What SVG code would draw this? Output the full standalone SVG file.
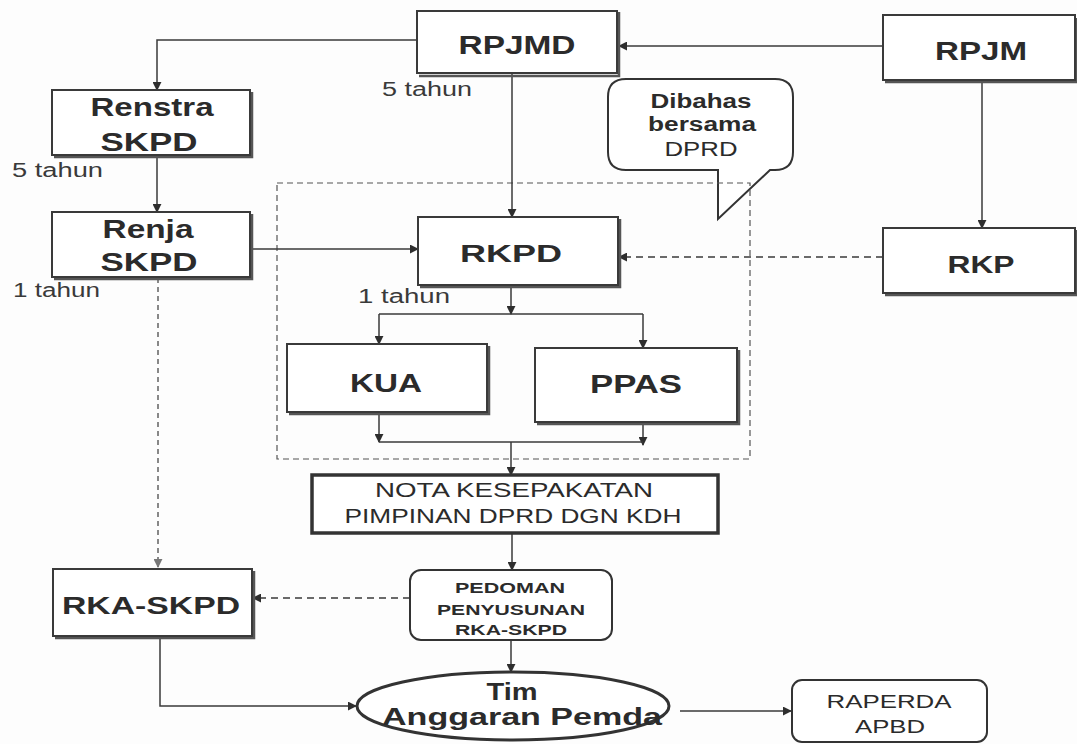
<svg xmlns="http://www.w3.org/2000/svg" width="1077" height="744" viewBox="0 0 1077 744">
<defs>
<marker id="ah" viewBox="0 0 10 10" refX="9" refY="5" markerWidth="9" markerHeight="9" markerUnits="userSpaceOnUse" orient="auto">
<path d="M0,0 L10,5 L0,10 Z" fill="#2e2e2e"/>
</marker>
<marker id="ahg" viewBox="0 0 10 10" refX="9" refY="5" markerWidth="9" markerHeight="9" markerUnits="userSpaceOnUse" orient="auto">
<path d="M0,0 L10,5 L0,10 Z" fill="#777"/>
</marker>
</defs>
<style>
.box{fill:#fff;stroke:#3a3a3a;stroke-width:2}
.sh{fill:none;stroke:#555;stroke-width:2.5}
.rbox{fill:#fff;stroke:#333;stroke-width:2}
.t{font-family:"Liberation Sans",Arial,sans-serif;fill:#2b2b2b;text-anchor:middle}
.b{font-weight:bold}
.tl{font-family:"Liberation Sans",Arial,sans-serif;fill:#3a3a3a}
.c{fill:none;stroke:#3a3a3a;stroke-width:1.5}
.cd{fill:none;stroke:#3a3a3a;stroke-width:1.5;stroke-dasharray:7 5}
.cg{fill:none;stroke:#888;stroke-width:2;stroke-dasharray:5 4}
.cont{fill:none;stroke:#555;stroke-width:1.2;stroke-dasharray:6 4}
</style>
<rect x="0" y="0" width="1077" height="744" fill="#fdfdfd"/>

<g id="callout">
<path d="M626,79 H775 Q793,79 793,97 V152 Q793,170 775,170 H770 L718,219 V170 H626 Q608,170 608,152 V97 Q608,79 626,79 Z" fill="#fff" stroke="#333" stroke-width="2"/>
<text class="t b" x="701" y="108" font-size="20" textLength="101" lengthAdjust="spacingAndGlyphs">Dibahas</text>
<text class="t b" x="702" y="131" font-size="20" textLength="108" lengthAdjust="spacingAndGlyphs">bersama</text>
<text class="t" x="701" y="156" font-size="21" textLength="73" lengthAdjust="spacingAndGlyphs">DPRD</text>
</g>

<g id="container">
<rect class="cont" x="277" y="183" width="473" height="276"/>
</g>

<g id="connectors">
<path class="c" d="M417,40 H157 V90" marker-end="url(#ah)"/>
<path class="c" d="M883,46 H619" marker-end="url(#ah)"/>
<path class="c" d="M512,73 V217" marker-end="url(#ah)"/>
<path class="c" d="M157,155 V212" marker-end="url(#ah)"/>
<path class="c" d="M250,249 H418" marker-end="url(#ah)"/>
<path class="cg" d="M158,278 V567" marker-end="url(#ahg)"/>
<path class="c" d="M982,80 V228" marker-end="url(#ah)"/>
<path class="cd" d="M883,257 H619" marker-end="url(#ah)"/>
<path class="c" d="M511,285 V314" marker-end="url(#ah)"/>
<path class="c" d="M379,314 H643"/>
<path class="c" d="M379,314 V344" marker-end="url(#ah)"/>
<path class="c" d="M643,314 V348" marker-end="url(#ah)"/>
<path class="c" d="M379,412 V442" marker-end="url(#ah)"/>
<path class="c" d="M643,422 V445" marker-end="url(#ah)"/>
<path class="c" d="M379,442 H643"/>
<path class="c" d="M511,442 V475" marker-end="url(#ah)"/>
<path class="c" d="M512,533 V570" marker-end="url(#ah)"/>
<path class="cd" d="M410,598 H253" marker-end="url(#ah)"/>
<path class="c" d="M511,640 V672" marker-end="url(#ah)"/>
<path class="c" d="M160,636 V706 H356" marker-end="url(#ah)"/>
<path class="c" d="M680,711 H791" marker-end="url(#ah)"/>
</g>

<g id="rpjmd">
<polyline class="sh" points="619,12 619,76 419,76"/>
<rect class="box" x="417" y="11" width="200" height="62"/>
<text class="t b" x="517" y="54" font-size="26" textLength="117" lengthAdjust="spacingAndGlyphs">RPJMD</text>
</g>
<text class="tl" x="382" y="96" font-size="20" textLength="90" lengthAdjust="spacingAndGlyphs">5 tahun</text>

<g id="rpjm">
<polyline class="sh" points="1076,18 1076,82 885,82"/>
<rect class="box" x="883" y="15" width="192" height="65"/>
<text class="t b" x="981" y="60" font-size="25" textLength="92" lengthAdjust="spacingAndGlyphs">RPJM</text>
</g>

<g id="renstra">
<polyline class="sh" points="252,92 252,157 54,157"/>
<rect class="box" x="52" y="90" width="198" height="65"/>
<text class="t b" x="152" y="116" font-size="25" textLength="123" lengthAdjust="spacingAndGlyphs">Renstra</text>
<text class="t b" x="149" y="151" font-size="25" textLength="97" lengthAdjust="spacingAndGlyphs">SKPD</text>
</g>
<text class="tl" x="12" y="177" font-size="20" textLength="91" lengthAdjust="spacingAndGlyphs">5 tahun</text>

<g id="renja">
<polyline class="sh" points="252,214 252,279 54,279"/>
<rect class="box" x="52" y="212" width="198" height="65"/>
<text class="t b" x="148" y="238" font-size="25" textLength="91" lengthAdjust="spacingAndGlyphs">Renja</text>
<text class="t b" x="149" y="271" font-size="25" textLength="97" lengthAdjust="spacingAndGlyphs">SKPD</text>
</g>
<text class="tl" x="13" y="297" font-size="20" textLength="87" lengthAdjust="spacingAndGlyphs">1 tahun</text>

<g id="rkpd">
<polyline class="sh" points="620,219 620,287 420,287"/>
<rect class="box" x="418" y="217" width="200" height="68"/>
<text class="t b" x="511" y="262" font-size="24" textLength="102" lengthAdjust="spacingAndGlyphs">RKPD</text>
</g>
<text class="tl" x="358" y="303" font-size="20" textLength="92" lengthAdjust="spacingAndGlyphs">1 tahun</text>

<g id="rkp">
<polyline class="sh" points="1076,230 1076,295 885,295"/>
<rect class="box" x="883" y="228" width="192" height="65"/>
<text class="t b" x="981" y="273" font-size="24" textLength="67" lengthAdjust="spacingAndGlyphs">RKP</text>
</g>

<g id="kua">
<polyline class="sh" points="489,346 489,414 289,414"/>
<rect class="box" x="287" y="344" width="200" height="68"/>
<text class="t b" x="386" y="392" font-size="26" textLength="72" lengthAdjust="spacingAndGlyphs">KUA</text>
</g>

<g id="ppas">
<polyline class="sh" points="739,350 739,424 537,424"/>
<rect class="box" x="535" y="348" width="202" height="74"/>
<text class="t b" x="636" y="393" font-size="26" textLength="92" lengthAdjust="spacingAndGlyphs">PPAS</text>
</g>

<g id="nota">
<rect x="312" y="475" width="406" height="58" fill="#fff" stroke="#333" stroke-width="3.5"/>
<text class="t" x="514" y="497" font-size="21" textLength="278" lengthAdjust="spacingAndGlyphs">NOTA KESEPAKATAN</text>
<text class="t" x="513" y="523" font-size="21" textLength="337" lengthAdjust="spacingAndGlyphs">PIMPINAN DPRD DGN KDH</text>
</g>

<g id="pedoman">
<rect class="rbox" x="410" y="570" width="202" height="70" rx="11"/>
<text class="t b" x="510" y="593" font-size="14" textLength="110" lengthAdjust="spacingAndGlyphs">PEDOMAN</text>
<text class="t b" x="511" y="615" font-size="14" textLength="148" lengthAdjust="spacingAndGlyphs">PENYUSUNAN</text>
<text class="t b" x="511" y="635" font-size="14" textLength="112" lengthAdjust="spacingAndGlyphs">RKA-SKPD</text>
</g>

<g id="rka-skpd">
<polyline class="sh" points="254,571 254,638 55,638"/>
<rect class="box" x="53" y="569" width="199" height="67"/>
<text class="t b" x="151" y="614" font-size="24" textLength="178" lengthAdjust="spacingAndGlyphs">RKA-SKPD</text>
</g>

<g id="tim">
<ellipse cx="513" cy="706" rx="156" ry="34" fill="#fff" stroke="#333" stroke-width="3"/>
<text class="t b" x="512" y="700" font-size="24" textLength="51" lengthAdjust="spacingAndGlyphs">Tim</text>
<text class="t b" x="522" y="725" font-size="24" textLength="280" lengthAdjust="spacingAndGlyphs">Anggaran Pemda</text>
</g>

<g id="raperda">
<rect class="rbox" x="792" y="680" width="195" height="62" rx="10"/>
<text class="t" x="889" y="708" font-size="18" textLength="125" lengthAdjust="spacingAndGlyphs">RAPERDA</text>
<text class="t" x="890" y="733" font-size="18" textLength="70" lengthAdjust="spacingAndGlyphs">APBD</text>
</g>
</svg>
